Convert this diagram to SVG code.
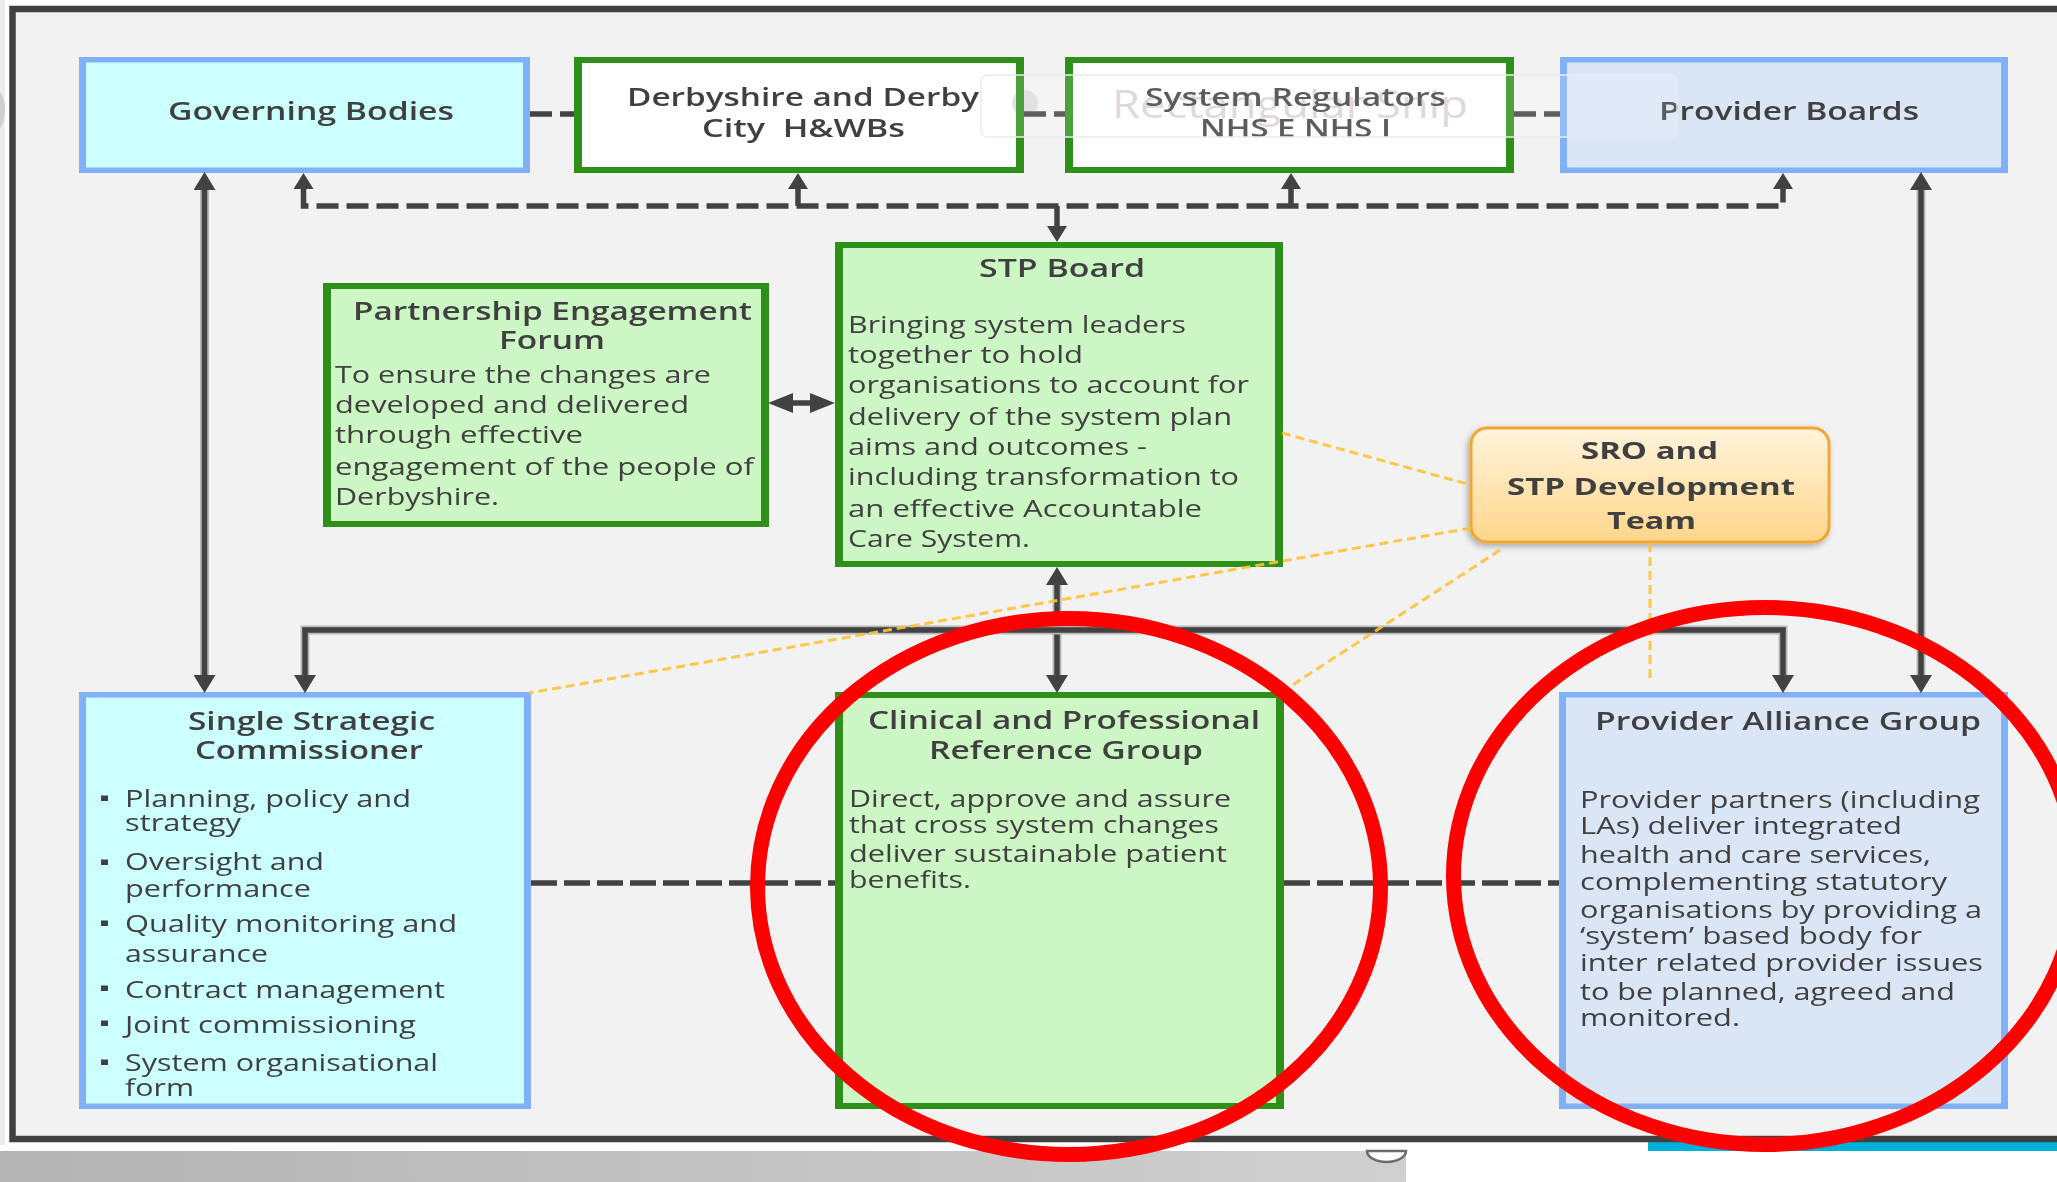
<svg xmlns="http://www.w3.org/2000/svg" width="2057" height="1182" viewBox="0 0 2057 1182">
<defs>
<style>
.t{font-family:"Open Sans","Liberation Sans",sans-serif;font-size:25px;font-weight:600;fill:#404040}
.b{font-family:"Open Sans","Liberation Sans",sans-serif;font-size:23px;font-weight:400;fill:#404040}
.s{font-family:"Open Sans","Liberation Sans",sans-serif;font-size:24px;font-weight:700;fill:#404040}
.bo{fill:#80b0f8}
.cy{fill:#ccffff}
.pb{fill:#dae6f6}
.gr{fill:#2e9019}
.gf{fill:#cdf6c5}
.wf{fill:#ffffff}
.bul{fill:#404040}
.sh{fill:none;stroke:#b8b8b8;stroke-width:9}
.ln{fill:none;stroke:#424242;stroke-width:5.5}
.dl{fill:none;stroke:#424242;stroke-width:5.5;stroke-dasharray:22 8}
.db{fill:none;stroke:#424242;stroke-width:5.5;stroke-dasharray:26 7}
.or{fill:none;stroke:#ffc23a;stroke-width:3;stroke-dasharray:9 5;opacity:.9}
.hl{fill:none;stroke:#ff0000;stroke-width:15}
</style>
<marker id="ah" markerUnits="userSpaceOnUse" viewBox="0 0 18 22" refX="0" refY="11" markerWidth="18" markerHeight="22" orient="auto-start-reverse"><path d="M0,0 L18,11 L0,22 Z" fill="#424242"/></marker>
<marker id="ahd" markerUnits="userSpaceOnUse" viewBox="0 0 16 20" refX="0" refY="10" markerWidth="16" markerHeight="20" orient="auto-start-reverse"><path d="M0,0 L16,10 L0,20 Z" fill="#424242"/></marker>
<marker id="ah2" markerUnits="userSpaceOnUse" viewBox="0 0 25 20" refX="0" refY="10" markerWidth="25" markerHeight="20" orient="auto-start-reverse"><path d="M0,0 L25,10 L0,20 Z" fill="#424242"/></marker>
<linearGradient id="sroG" x1="0" y1="0" x2="0" y2="1"><stop offset="0" stop-color="#fff4dc"/><stop offset="1" stop-color="#ffd68a"/></linearGradient>
<linearGradient id="barG" x1="0" y1="0" x2="1" y2="0"><stop offset="0" stop-color="#b4b4b4"/><stop offset="1" stop-color="#d0d0d0"/></linearGradient>
<filter id="shd" x="-10%" y="-20%" width="120%" height="150%"><feDropShadow dx="-2" dy="3" stdDeviation="3" flood-color="#000" flood-opacity="0.3"/></filter>
</defs>

<!-- page background -->
<rect x="0" y="0" width="2057" height="1182" fill="#ffffff"/>
<rect x="0" y="0" width="5" height="1145" fill="#ececec"/>
<ellipse cx="-6" cy="110" rx="11" ry="22" fill="#cfcfcf"/>
<rect x="0" y="1151" width="1406" height="31" fill="url(#barG)"/>
<path d="M1367,1151 A19.5,11 0 0 0 1406,1151 Z" fill="#ffffff" stroke="#6a6a6a" stroke-width="2.5"/>
<rect x="1648" y="1142" width="409" height="9" fill="#00b0d8"/>
<rect x="12.5" y="9" width="2100" height="1130" fill="#f2f2f2" stroke="#404040" stroke-width="6.5"/>

<!-- nodes -->
<g id="governing-bodies">
<rect class="bo" x="79" y="57" width="451" height="116"/>
<rect class="cy" x="86" y="62.5" width="437" height="105"/>
<text class="t" x="168" y="120" textLength="286" lengthAdjust="spacingAndGlyphs">Governing Bodies</text>
</g>
<g id="hwbs">
<rect class="gr" x="574" y="57" width="450" height="116"/>
<rect class="wf" x="582" y="63" width="434" height="104"/>
<text class="t" x="627" y="106" textLength="352" lengthAdjust="spacingAndGlyphs">Derbyshire and Derby</text>
<text class="t" x="702" y="137" textLength="203" lengthAdjust="spacingAndGlyphs" xml:space="preserve">City  H&amp;WBs</text>
</g>
<g id="system-regulators">
<rect class="gr" x="1065" y="57" width="449" height="116"/>
<rect class="wf" x="1073" y="63" width="433" height="104"/>
<text class="t" x="1145" y="106" textLength="301" lengthAdjust="spacingAndGlyphs">System Regulators</text>
<text class="t" x="1200" y="137" textLength="191" lengthAdjust="spacingAndGlyphs">NHS E NHS I</text>
</g>
<g id="provider-boards">
<rect class="bo" x="1560" y="57" width="448" height="116"/>
<rect class="pb" x="1567" y="62.5" width="434" height="105"/>
<text class="t" x="1659" y="120" textLength="260" lengthAdjust="spacingAndGlyphs">Provider Boards</text>
</g>
<g id="partnership-engagement-forum">
<rect class="gr" x="323" y="283" width="446" height="244"/>
<rect class="gf" x="331" y="289" width="430" height="232"/>
<text class="t" x="353" y="320" textLength="399" lengthAdjust="spacingAndGlyphs">Partnership Engagement</text>
<text class="t" x="499" y="349" textLength="106" lengthAdjust="spacingAndGlyphs">Forum</text>
<text class="b" x="335" y="383" textLength="376" lengthAdjust="spacingAndGlyphs">To ensure the changes are</text>
<text class="b" x="335" y="413" textLength="354" lengthAdjust="spacingAndGlyphs">developed and delivered</text>
<text class="b" x="335" y="443" textLength="248" lengthAdjust="spacingAndGlyphs">through effective</text>
<text class="b" x="335" y="475" textLength="419" lengthAdjust="spacingAndGlyphs">engagement of the people of</text>
<text class="b" x="335" y="505" textLength="164" lengthAdjust="spacingAndGlyphs">Derbyshire.</text>
</g>
<g id="stp-board">
<rect class="gr" x="835" y="242" width="448" height="325"/>
<rect class="gf" x="843" y="248" width="432" height="313"/>
<text class="t" x="979" y="277" textLength="166" lengthAdjust="spacingAndGlyphs">STP Board</text>
<text class="b" x="848" y="333" textLength="338" lengthAdjust="spacingAndGlyphs">Bringing system leaders</text>
<text class="b" x="848" y="363" textLength="235" lengthAdjust="spacingAndGlyphs">together to hold</text>
<text class="b" x="848" y="393" textLength="401" lengthAdjust="spacingAndGlyphs">organisations to account for</text>
<text class="b" x="848" y="425" textLength="384" lengthAdjust="spacingAndGlyphs">delivery of the system plan</text>
<text class="b" x="848" y="455" textLength="299" lengthAdjust="spacingAndGlyphs">aims and outcomes -</text>
<text class="b" x="848" y="485" textLength="391" lengthAdjust="spacingAndGlyphs">including transformation to</text>
<text class="b" x="848" y="517" textLength="354" lengthAdjust="spacingAndGlyphs">an effective Accountable</text>
<text class="b" x="848" y="547" textLength="182" lengthAdjust="spacingAndGlyphs">Care System.</text>
</g>
<g id="sro-team">
<rect x="1471" y="428" width="358" height="114" rx="16" ry="16" fill="url(#sroG)" stroke="#f3a532" stroke-width="3" filter="url(#shd)"/>
<text class="s" x="1581" y="459" textLength="137" lengthAdjust="spacingAndGlyphs">SRO and</text>
<text class="s" x="1507" y="495" textLength="288" lengthAdjust="spacingAndGlyphs">STP Development</text>
<text class="s" x="1607" y="529" textLength="89" lengthAdjust="spacingAndGlyphs">Team</text>
</g>
<g id="single-strategic-commissioner">
<rect class="bo" x="79" y="692" width="452" height="417"/>
<rect class="cy" x="86" y="697.5" width="438" height="406"/>
<text class="t" x="188" y="730" textLength="247" lengthAdjust="spacingAndGlyphs">Single Strategic</text>
<text class="t" x="195" y="759" textLength="228" lengthAdjust="spacingAndGlyphs">Commissioner</text>
<rect class="bul" x="101" y="795.5" width="7" height="5.5"/>
<rect class="bul" x="101" y="859.5" width="7" height="5.5"/>
<rect class="bul" x="101" y="920.5" width="7" height="5.5"/>
<rect class="bul" x="101" y="985.5" width="7" height="5.5"/>
<rect class="bul" x="101" y="1020.5" width="7" height="5.5"/>
<rect class="bul" x="101" y="1059.5" width="7" height="5.5"/>
<text class="b" x="125" y="807" textLength="286" lengthAdjust="spacingAndGlyphs">Planning, policy and</text>
<text class="b" x="125" y="831" textLength="116" lengthAdjust="spacingAndGlyphs">strategy</text>
<text class="b" x="125" y="870" textLength="199" lengthAdjust="spacingAndGlyphs">Oversight and</text>
<text class="b" x="125" y="897" textLength="186" lengthAdjust="spacingAndGlyphs">performance</text>
<text class="b" x="125" y="932" textLength="332" lengthAdjust="spacingAndGlyphs">Quality monitoring and</text>
<text class="b" x="125" y="962" textLength="143" lengthAdjust="spacingAndGlyphs">assurance</text>
<text class="b" x="125" y="998" textLength="320" lengthAdjust="spacingAndGlyphs">Contract management</text>
<text class="b" x="125" y="1033" textLength="291" lengthAdjust="spacingAndGlyphs">Joint commissioning</text>
<text class="b" x="125" y="1071" textLength="313" lengthAdjust="spacingAndGlyphs">System organisational</text>
<text class="b" x="125" y="1096" textLength="69" lengthAdjust="spacingAndGlyphs">form</text>
</g>
<g id="clinical-professional-reference-group">
<rect class="gr" x="835" y="692" width="449" height="417"/>
<rect class="gf" x="843" y="698" width="433" height="405"/>
<text class="t" x="868" y="729" textLength="392" lengthAdjust="spacingAndGlyphs">Clinical and Professional</text>
<text class="t" x="929" y="759" textLength="274" lengthAdjust="spacingAndGlyphs">Reference Group</text>
<text class="b" x="849" y="807" textLength="382" lengthAdjust="spacingAndGlyphs">Direct, approve and assure</text>
<text class="b" x="849" y="833" textLength="370" lengthAdjust="spacingAndGlyphs">that cross system changes</text>
<text class="b" x="849" y="862" textLength="378" lengthAdjust="spacingAndGlyphs">deliver sustainable patient</text>
<text class="b" x="849" y="888" textLength="122" lengthAdjust="spacingAndGlyphs">benefits.</text>
</g>
<g id="provider-alliance-group">
<rect class="bo" x="1559" y="692" width="449" height="417"/>
<rect class="pb" x="1566" y="697.5" width="435" height="406"/>
<text class="t" x="1595" y="730" textLength="386" lengthAdjust="spacingAndGlyphs">Provider Alliance Group</text>
<text class="b" x="1580" y="808" textLength="400" lengthAdjust="spacingAndGlyphs">Provider partners (including</text>
<text class="b" x="1580" y="834" textLength="322" lengthAdjust="spacingAndGlyphs">LAs) deliver integrated</text>
<text class="b" x="1580" y="863" textLength="351" lengthAdjust="spacingAndGlyphs">health and care services,</text>
<text class="b" x="1580" y="890" textLength="367" lengthAdjust="spacingAndGlyphs">complementing statutory</text>
<text class="b" x="1580" y="918" textLength="402" lengthAdjust="spacingAndGlyphs">organisations by providing a</text>
<text class="b" x="1580" y="944" textLength="342" lengthAdjust="spacingAndGlyphs">‘system’ based body for</text>
<text class="b" x="1580" y="971" textLength="403" lengthAdjust="spacingAndGlyphs">inter related provider issues</text>
<text class="b" x="1580" y="1000" textLength="375" lengthAdjust="spacingAndGlyphs">to be planned, agreed and</text>
<text class="b" x="1580" y="1026" textLength="160" lengthAdjust="spacingAndGlyphs">monitored.</text>
</g>

<!-- connectors -->
<g id="connectors">
<path class="sh" d="M204.5,190 L204.5,675"/>
<path class="ln" d="M204.5,190 L204.5,675" marker-start="url(#ah)" marker-end="url(#ah)"/>
<path class="sh" d="M1921,190 L1921,675"/>
<path class="ln" d="M1921,190 L1921,675" marker-start="url(#ah)" marker-end="url(#ah)"/>
<path class="sh" d="M1057,585 L1057,675"/>
<path class="ln" d="M1057,585 L1057,675" marker-start="url(#ah)" marker-end="url(#ah)"/>
<path class="sh" d="M305,675 L305,630 L1783,630 L1783,675"/>
<path class="ln" d="M305,675 L305,630 L1783,630 L1783,675" marker-start="url(#ah)" marker-end="url(#ah)"/>
<path class="ln" d="M793,403 L810,403" stroke-width="4" marker-start="url(#ah2)" marker-end="url(#ah2)"/>
<path class="dl" d="M530,114 L574,114"/>
<path class="dl" d="M1024,114 L1065,114"/>
<path class="dl" d="M1514,114 L1560,114"/>
<path class="dl" d="M303.5,189 L303.5,206 L1783,206 L1783,189" marker-start="url(#ahd)" marker-end="url(#ahd)"/>
<path class="ln" d="M798,206 L798,189" marker-end="url(#ahd)"/>
<path class="ln" d="M1291,206 L1291,189" marker-end="url(#ahd)"/>
<path class="ln" d="M1057,206 L1057,226" marker-end="url(#ahd)"/>
<path class="db" d="M531,883 L835,883"/>
<path class="db" d="M1284,883 L1559,883"/>
<path class="or" d="M1282,433 L1471,485"/>
<path class="or" d="M1471,528 L529,693"/>
<path class="or" d="M1500,550 L1277,695"/>
<path class="or" d="M1650,543 L1650,683"/>
</g>

<!-- snipping-tool watermark -->
<g id="watermark">
<rect x="981" y="75" width="696" height="62" rx="6" fill="#ffffff" fill-opacity="0.15" stroke="#e6ecf6" stroke-width="1.5"/>
<circle cx="1025" cy="103" r="13" fill="#e2e2e2" style="mix-blend-mode:darken"/>
<text x="1112" y="118" textLength="356" lengthAdjust="spacingAndGlyphs" style="font-family:'Open Sans','Liberation Sans',sans-serif;font-size:38px;fill:#e0d8dc;mix-blend-mode:darken">Rectangular Snip</text>
</g>

<!-- red highlight ellipses -->
<g id="highlights">
<ellipse class="hl" cx="1069" cy="886.5" rx="311.5" ry="268"/>
<ellipse class="hl" cx="1765" cy="876" rx="311.5" ry="268.5"/>
</g>
</svg>
